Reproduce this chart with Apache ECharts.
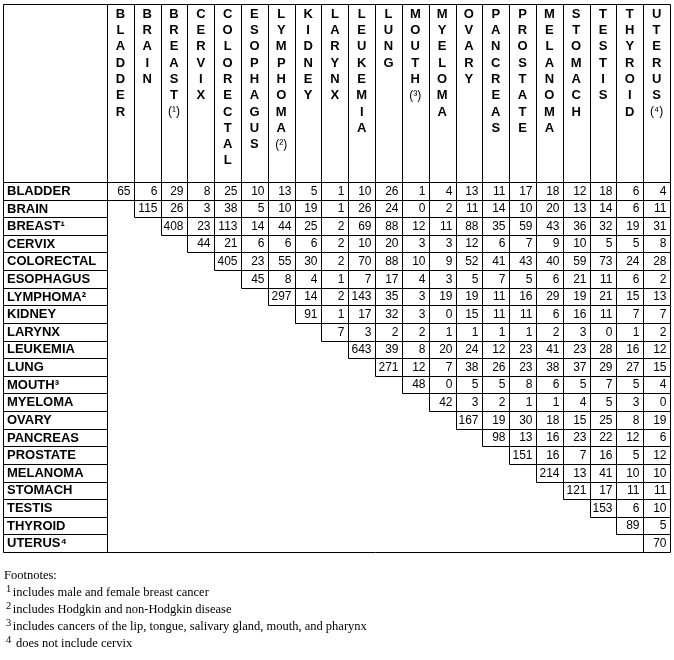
<!DOCTYPE html>
<html><head><meta charset="utf-8">
<script src="https://cdn.jsdelivr.net/npm/echarts@6/dist/echarts.min.js"></script>
<style>html,body{margin:0;padding:0;background:#fff}#c{width:674px;height:660px}</style>
</head><body><div id="c"></div>
<script>
// ---- data ----
const cancers = ['BLADDER','BRAIN','BREAST','CERVIX','COLORECTAL','ESOPHAGUS','LYMPHOMA','KIDNEY','LARYNX','LEUKEMIA','LUNG','MOUTH','MYELOMA','OVARY','PANCREAS','PROSTATE','MELANOMA','STOMACH','TESTIS','THYROID','UTERUS'];
const footnoteMarks = ['', '', '1', '', '', '', '2', '', '', '', '', '3', '', '', '', '', '', '', '', '', '4'];
const supChars = {'1':'¹','2':'²','3':'³','4':'⁴'};

const bladder    = [65, 6, 29, 8, 25, 10, 13, 5, 1, 10, 26, 1, 4, 13, 11, 17, 18, 12, 18, 6, 4];
const brain      = [115, 26, 3, 38, 5, 10, 19, 1, 26, 24, 0, 2, 11, 14, 10, 20, 13, 14, 6, 11];
const breast     = [408, 23, 113, 14, 44, 25, 2, 69, 88, 12, 11, 88, 35, 59, 43, 36, 32, 19, 31];
const cervix     = [44, 21, 6, 6, 6, 2, 10, 20, 3, 3, 12, 6, 7, 9, 10, 5, 5, 8];
const colorectal = [405, 23, 55, 30, 2, 70, 88, 10, 9, 52, 41, 43, 40, 59, 73, 24, 28];
const esophagus  = [45, 8, 4, 1, 7, 17, 4, 3, 5, 7, 5, 6, 21, 11, 6, 2];
const lymphoma   = [297, 14, 2, 143, 35, 3, 19, 19, 11, 16, 29, 19, 21, 15, 13];
const kidney     = [91, 1, 17, 32, 3, 0, 15, 11, 11, 6, 16, 11, 7, 7];
const larynx     = [7, 3, 2, 2, 1, 1, 1, 1, 2, 3, 0, 1, 2];
const leukemia   = [643, 39, 8, 20, 24, 12, 23, 41, 23, 28, 16, 12];
const lung       = [271, 12, 7, 38, 26, 23, 38, 37, 29, 27, 15];
const mouth      = [48, 0, 5, 5, 8, 6, 5, 7, 5, 4];
const myeloma    = [42, 3, 2, 1, 1, 4, 5, 3, 0];
const ovary      = [167, 19, 30, 18, 15, 25, 8, 19];
const pancreas   = [98, 13, 16, 23, 22, 12, 6];
const prostate   = [151, 16, 7, 16, 5, 12];
const melanoma   = [214, 13, 41, 10, 10];
const stomach    = [121, 17, 11, 11];
const testis     = [153, 6, 10];
const thyroid    = [89, 5];
const uterus     = [70];
const valueRows = [bladder, brain, breast, cervix, colorectal, esophagus, lymphoma, kidney, larynx, leukemia, lung, mouth, myeloma, ovary, pancreas, prostate, melanoma, stomach, testis, thyroid, uterus];

const footnoteTitle = 'Footnotes:';
const footnotes = [
  ['1', 'includes male and female breast cancer'],
  ['2', 'includes Hodgkin and non-Hodgkin disease'],
  ['3', 'includes cancers of the lip, tongue, salivary gland, mouth, and pharynx'],
  ['4', ' does not include cervix']
];

// ---- build ----
const cells = [];
valueRows.forEach((row, i) => row.forEach((v, k) => cells.push([i + k, i, v])));

const SANS = '"Liberation Sans", Arial, sans-serif';
const NUMFONT = '12px "Liberation Sans Narrow", "Liberation Sans", Arial, sans-serif';
const snap = v => Math.round(v) + 0.5;
function box(api, xi, yi) {
  const c = api.coord([xi, yi]);
  const s = api.size([1, 1]);
  const w = Math.abs(s[0]), h = Math.abs(s[1]);
  return {x1: snap(c[0] - w / 2), x2: snap(c[0] + w / 2), y1: snap(c[1] - h / 2), y2: snap(c[1] + h / 2), cx: c[0], cy: c[1], w, h};
}
function rectEl(b) {
  return {type: 'rect', shape: {x: b.x1, y: b.y1, width: b.x2 - b.x1, height: b.y2 - b.y1},
          style: {fill: '#fff', stroke: '#000', lineWidth: 1}};
}
const hidden = {show: false};
function cat(data, inverse) {
  return {type: 'category', data, show: false, inverse: !!inverse, axisLine: hidden, axisTick: hidden, axisLabel: hidden, splitLine: hidden};
}

const option = {
  backgroundColor: '#fff',
  animation: false,
  title: {
    left: 4, top: 567, padding: 0,
    text: [footnoteTitle].concat(footnotes.map(f => '{s|' + f[0] + '}' + f[1])).join('\n'),
    textStyle: {
      fontFamily: '"Liberation Serif", "Times New Roman", serif', fontSize: 12.5, fontWeight: 'normal', color: '#000', lineHeight: 17,
      rich: {s: {fontFamily: '"Liberation Serif", serif', fontSize: 10.5, color: '#000', verticalAlign: 'top', lineHeight: 12, padding: [0, 1.5, 0, 2]}}
    }
  },
  grid: [
    {left: 3, top: 4, width: 104, height: 178},
    {left: 107, top: 4, width: 563, height: 178},
    {left: 3, top: 182, width: 104, height: 370},
    {left: 107, top: 182, width: 563, height: 370}
  ],
  xAxis: [cat(['']), Object.assign(cat(cancers), {gridIndex: 1}), Object.assign(cat(['']), {gridIndex: 2}), Object.assign(cat(cancers), {gridIndex: 3})],
  yAxis: [cat(['']), Object.assign(cat(['']), {gridIndex: 1}), Object.assign(cat(cancers, true), {gridIndex: 2}), Object.assign(cat(cancers, true), {gridIndex: 3})],
  series: [
    {
      type: 'custom', xAxisIndex: 0, yAxisIndex: 0, data: [[0, 0]], silent: true,
      renderItem: (p, api) => rectEl(box(api, 0, 0))
    },
    {
      type: 'custom', xAxisIndex: 1, yAxisIndex: 1, silent: true,
      data: cancers.map((n, i) => [i, 0]),
      renderItem: (p, api) => {
        const i = api.value(0);
        const b = box(api, i, 0);
        let txt = cancers[i].split('').map(ch => '{b|' + ch + '}').join('\n');
        if (footnoteMarks[i]) txt += '\n{n|(' + supChars[footnoteMarks[i]] + ')}';
        return {type: 'group', children: [rectEl(b), {
          type: 'text',
          style: {text: txt, x: b.cx, y: b.y1 + 1.5, align: 'center', verticalAlign: 'top', fill: '#000',
            rich: {b: {font: 'bold 13px ' + SANS, lineHeight: 16.3, fill: '#000'},
                   n: {font: '12px ' + SANS, lineHeight: 16.3, fill: '#000'}}}
        }]};
      }
    },
    {
      type: 'custom', xAxisIndex: 2, yAxisIndex: 2, silent: true,
      data: cancers.map((n, i) => [0, i]),
      renderItem: (p, api) => {
        const i = api.value(1);
        const b = box(api, 0, i);
        const mark = footnoteMarks[i] ? supChars[footnoteMarks[i]] : '';
        return {type: 'group', children: [rectEl(b), {
          type: 'text',
          style: {text: cancers[i] + mark, x: b.x1 + 3.5, y: b.cy + 0.5, align: 'left', verticalAlign: 'middle',
                  font: 'bold 13px ' + SANS, fill: '#000'}
        }]};
      }
    },
    {
      type: 'custom', xAxisIndex: 3, yAxisIndex: 3, silent: true,
      data: cells,
      renderItem: (p, api) => {
        const j = api.value(0), i = api.value(1), v = api.value(2);
        const b = box(api, j, i);
        const children = [rectEl(b), {
          type: 'text',
          style: {text: String(v), x: b.x2 - 4, y: b.cy + 0.5, align: 'right', verticalAlign: 'middle', font: NUMFONT, fill: '#000'}
        }];
        if (i === cancers.length - 1) {
          const left = snap(api.coord([0, i])[0] - b.w / 2);
          children.push({type: 'line', shape: {x1: left, y1: b.y2, x2: b.x1, y2: b.y2}, style: {stroke: '#000', lineWidth: 1}});
        }
        return {type: 'group', children};
      }
    }
  ]
};
const chart = echarts.init(document.getElementById('c'), null, {renderer: 'canvas', width: 674, height: 660});
chart.setOption(option);
</script>
</body></html>
